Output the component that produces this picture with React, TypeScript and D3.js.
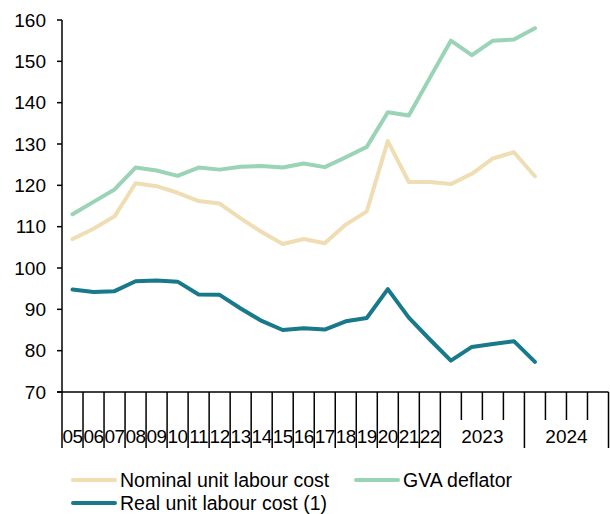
import * as d3 from "d3";

const categories = [
  "05", "06", "07", "08", "09", "10", "11", "12", "13", "14", "15", "16", "17", "18", "19", "20", "21", "22",
  "2023Q1", "2023Q2", "2023Q3", "2023Q4", "2024Q1", "2024Q2", "2024Q3", "2024Q4",
];
const annualLabels = categories.slice(0, 18);
const yearGroups = [
  { label: "2023", from: "2023Q1", to: "2023Q4" },
  { label: "2024", from: "2024Q1", to: "2024Q4" },
];
const yTicks = [70, 80, 90, 100, 110, 120, 130, 140, 150, 160];

const nominalUlc = [107, 109.5, 112.5, 120.5, 119.8, 118.2, 116.2, 115.6, 112, 108.7, 105.8, 107, 106, 110.5, 113.7, 130.7, 120.8, 120.8, 120.3, 122.8, 126.5, 128, 122.2];
const gvaDeflator = [113, 116, 119, 124.3, 123.6, 122.3, 124.3, 123.8, 124.5, 124.7, 124.3, 125.3, 124.4, 126.8, 129.3, 137.7, 136.9, 146, 155, 151.5, 155, 155.3, 158];
const realUlc = [94.8, 94.2, 94.4, 96.8, 97, 96.7, 93.6, 93.5, 90.2, 87.2, 85, 85.4, 85.1, 87.1, 87.9, 94.9, 88, 82.7, 77.6, 80.9, 81.6, 82.3, 77.3];

const series = [
  { name: "Nominal unit labour cost", values: nominalUlc, color: "#EFDDB3" },
  { name: "GVA deflator", values: gvaDeflator, color: "#9AD3B6" },
  { name: "Real unit labour cost (1)", values: realUlc, color: "#17798A" },
];

const W = 610;
const H = 514;
const font = "'Liberation Sans', Arial, sans-serif";

export default function App() {
  const left = 62;
  const right = 608.5;
  const top = 20;
  const bottom = 392;

  const x = d3.scaleBand<string>().domain(categories).range([left, right]);
  const y = d3.scaleLinear().domain([70, 160]).range([bottom, top]);

  const line = d3
    .line<number>()
    .x((_, i) => (x(categories[i]) || 0) + x.bandwidth() / 2)
    .y((d) => y(d));

  // band edges: long ticks split years, short ones split quarters
  const edges = categories.map((c) => x(c) || 0).concat([right]);
  const isLong = (i: number) =>
    i <= annualLabels.length || i === categories.indexOf("2024Q1") || i === categories.length;

  return (
    <svg
      width={W}
      height={H}
      style={{ position: "absolute", left: 0, top: 0, background: "#fff" }}
      fontFamily={font}
    >
      {/* y axis */}
      <line x1={left} x2={left} y1={top} y2={bottom} stroke="#000" strokeWidth={1.5} />
      {yTicks.map((t) => (
        <g key={t}>
          <line x1={left - 5} x2={left} y1={y(t)} y2={y(t)} stroke="#000" strokeWidth={1.5} />
          <text x={46} y={y(t)} dy="0.35em" textAnchor="end" fontSize={19} fill="#000">
            {t}
          </text>
        </g>
      ))}

      {/* x axis */}
      <line x1={left - 5} x2={right} y1={bottom} y2={bottom} stroke="#000" strokeWidth={1.5} />
      {edges.map((ex, i) => (
        <line
          key={i}
          x1={ex}
          x2={ex}
          y1={bottom}
          y2={isLong(i) ? 448 : 420}
          stroke="#000"
          strokeWidth={1.5}
        />
      ))}
      {annualLabels.map((c) => (
        <text
          key={c}
          x={(x(c) || 0) + x.bandwidth() / 2}
          y={443}
          textAnchor="middle"
          fontSize={19}
          letterSpacing={-0.5}
          fill="#000"
        >
          {c}
        </text>
      ))}
      {yearGroups.map((g) => (
        <text
          key={g.label}
          x={((x(g.from) || 0) + (x(g.to) || 0) + x.bandwidth()) / 2}
          y={443}
          textAnchor="middle"
          fontSize={19}
          fill="#000"
        >
          {g.label}
        </text>
      ))}

      {/* lines */}
      {series.map((s) => (
        <path
          key={s.name}
          d={line(s.values) || undefined}
          fill="none"
          stroke={s.color}
          strokeWidth={4}
          strokeLinejoin="round"
          strokeLinecap="round"
        />
      ))}

      {/* legend */}
      {[
        { s: series[0], lx: 73, ly: 480 },
        { s: series[1], lx: 356, ly: 480 },
        { s: series[2], lx: 73, ly: 503 },
      ].map(({ s, lx, ly }) => (
        <g key={s.name}>
          <line x1={lx} x2={lx + 42} y1={ly} y2={ly} stroke={s.color} strokeWidth={4} strokeLinecap="round" />
          <text x={lx + 47} y={ly} dy="0.35em" fontSize={19.5} fill="#000">
            {s.name}
          </text>
        </g>
      ))}
    </svg>
  );
}
